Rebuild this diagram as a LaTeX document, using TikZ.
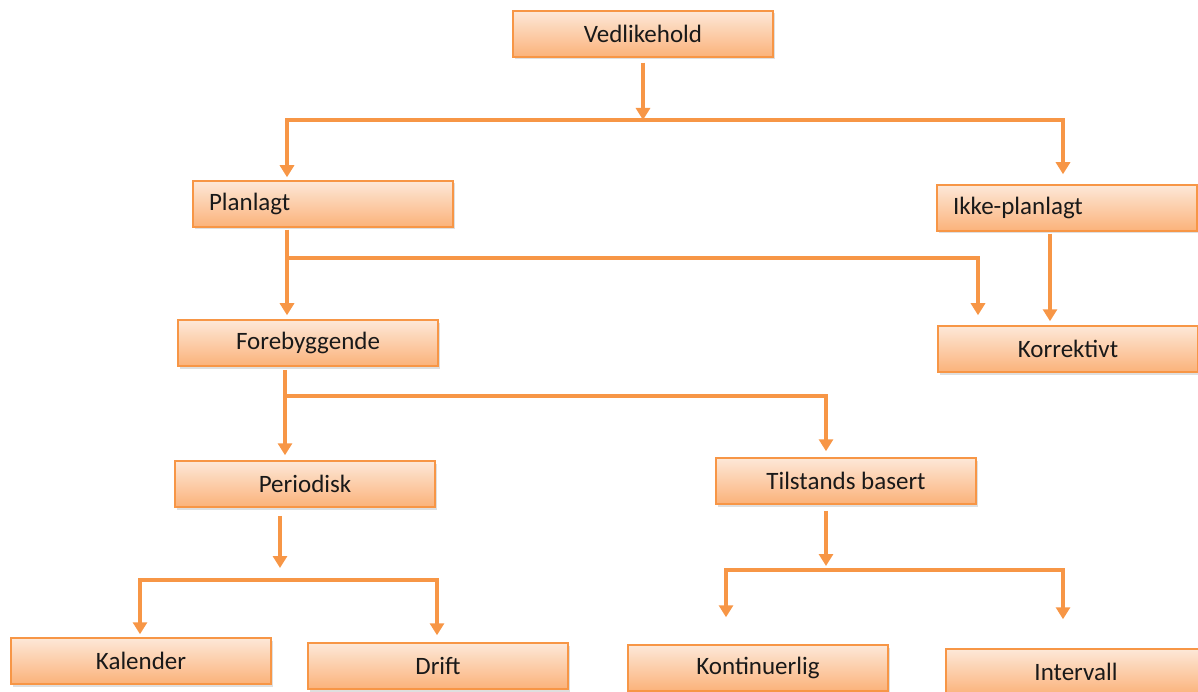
\documentclass[tikz,border=0pt]{standalone}
\usepackage{fontspec}
\setmainfont{Carlito}
\usetikzlibrary{arrows.meta,shadows}
\definecolor{orb}{HTML}{F79646}
\definecolor{topc}{HTML}{FDE8D8}
\definecolor{botc}{HTML}{FBB27A}
\begin{document}
\begin{tikzpicture}[x=1pt,y=-1pt,
  box/.style={draw=orb, line width=1.5pt, top color=topc, bottom color=botc,
    minimum width=260pt, minimum height=46pt, inner sep=0pt,
    font=\fontsize{25}{28}\selectfont, text=black!90,
    drop shadow={opacity=0.25, shadow xshift=1.5pt, shadow yshift=-2.5pt}},
  lbox/.style={box, inner xsep=16pt, text width=228pt, align=left},
  arr/.style={draw=orb, line width=4pt, -{Triangle[width=14pt,length=12pt]}}]
\useasboundingbox (0,0) rectangle (1198,692);

\node[box]  (V)  at (643,34)  {Vedlikehold};
\node[lbox] (P)  at (323,204) {Planlagt};
\node[lbox] (I)  at (1067,208) {Ikke-planlagt};
\node[box]  (F)  at (308,343) {Forebyggende};
\node[box]  (K)  at (1068,349) {Korrektivt};
\node[box]  (Pe) at (305,484) {Periodisk};
\node[box]  (T)  at (846,481) {Tilstands basert};
\node[box]  (Ka) at (141,661) {Kalender};
\node[box]  (D)  at (438,666) {Drift};
\node[box]  (Ko) at (758,668) {Kontinuerlig};
\node[box]  (In) at (1076,672) {Intervall};

\coordinate (j1) at (643,120);
\draw[arr] ([yshift=-5pt]V.south) -- (j1);
\draw[arr] (j1) -| ([xshift=-36pt,yshift=3pt]P.north);
\draw[arr] (j1) -| ([xshift=-4pt,yshift=10pt]I.north);

\coordinate (j2) at (287,258);
\draw[arr] ([xshift=-36pt,yshift=-2pt]P.south) -- ([xshift=-21pt,yshift=4pt]F.north);
\draw[arr] (j2) -| ([xshift=-90pt,yshift=10pt]K.north);
\draw[arr] ([xshift=-17pt,yshift=-2pt]I.south) -- ([xshift=-18pt,yshift=4pt]K.north);

\coordinate (j3) at (285,396);
\draw[arr] ([xshift=-23pt,yshift=-3pt]F.south) -- ([xshift=-20pt,yshift=5pt]Pe.north);
\draw[arr] (j3) -| ([xshift=-20pt,yshift=6pt]T.north);

\coordinate (j4) at (280,568);
\draw[arr] ([xshift=-25pt,yshift=-8pt]Pe.south) -- (j4);
\coordinate (j5) at (288,580);
\draw[arr] (j5) -| ([xshift=-1pt,yshift=3pt]Ka.north);
\draw[arr] (j5) -| ([xshift=-1pt,yshift=7pt]D.north);

\coordinate (j6) at (826,566);
\draw[arr] ([xshift=-20pt,yshift=-6pt]T.south) -- (j6);
\coordinate (j7) at (826,570);
\draw[arr] (j7) -| ([xshift=-32pt,yshift=27pt]Ko.north);
\draw[arr] (j7) -| ([xshift=-13pt,yshift=29pt]In.north);
\end{tikzpicture}
\end{document}
